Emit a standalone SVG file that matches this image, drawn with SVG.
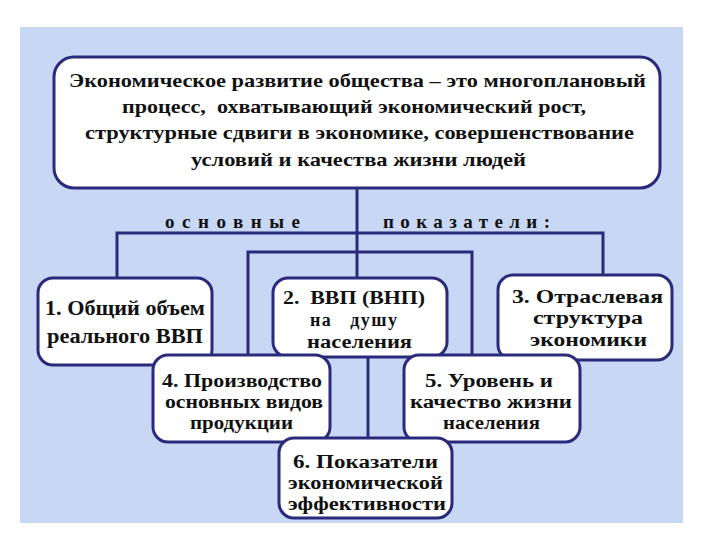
<svg xmlns="http://www.w3.org/2000/svg" width="720" height="540" viewBox="0 0 720 540">
<style>
.box{fill:#ffffff;stroke:#2a2a7c;stroke-width:3}
.con{stroke:#2a2a7c;stroke-width:3;fill:none}
text{font-family:"Liberation Serif","DejaVu Serif","Times New Roman",serif;font-weight:bold;fill:#111111}
.m{font-size:19px}
.n{font-size:22px}
.s{font-size:18px}
.l{font-size:19px}
</style>
<rect x="0" y="0" width="720" height="540" fill="#ffffff"/>
<rect x="20" y="27" width="663" height="496" fill="#c8d7f3"/>
<g id="connectors">
<path class="con" d="M357 188 V278"/>
<path class="con" d="M117 278 V233 H603 V275"/>
<path class="con" d="M248 355 V252 H472 V355"/>
<path class="con" d="M368 357 V438"/>
</g>
<g id="labels">
<text class="l" x="165" y="228" textLength="135" lengthAdjust="spacing">основные</text>
<text class="l" x="383" y="228" textLength="167" lengthAdjust="spacing">показатели:</text>
</g>
<g id="main">
<rect class="box" x="54" y="57" width="606" height="131" rx="20"/>
<text class="m" x="69" y="87" textLength="577" lengthAdjust="spacingAndGlyphs">Экономическое развитие общества – это многоплановый</text>
<text class="m" x="122" y="113" textLength="464" lengthAdjust="spacingAndGlyphs" xml:space="preserve">процесс,  охватывающий экономический рост,</text>
<text class="m" x="85" y="139" textLength="549" lengthAdjust="spacingAndGlyphs">структурные сдвиги в экономике, совершенствование</text>
<text class="m" x="191" y="166" textLength="335" lengthAdjust="spacingAndGlyphs">условий и качества жизни людей</text>
</g>
<g id="node1">
<rect class="box" x="38" y="278" width="174" height="87" rx="15"/>
<text class="n" x="45" y="315" textLength="160" lengthAdjust="spacingAndGlyphs">1. Общий объем</text>
<text class="n" x="47" y="343" textLength="156" lengthAdjust="spacingAndGlyphs">реального ВВП</text>
</g>
<g id="node2">
<rect class="box" x="273" y="278" width="174" height="79" rx="15"/>
<text class="s" x="283" y="304" textLength="142" lengthAdjust="spacingAndGlyphs" xml:space="preserve">2.  ВВП (ВНП)</text>
<text class="s" x="310" y="326" textLength="87" lengthAdjust="spacing" xml:space="preserve">на   душу</text>
<text class="s" x="307" y="348" textLength="105" lengthAdjust="spacingAndGlyphs">населения</text>
</g>
<g id="node3">
<rect class="box" x="498" y="275" width="174" height="85" rx="15"/>
<text class="s" x="512" y="303" textLength="151" lengthAdjust="spacingAndGlyphs">3. Отраслевая</text>
<text class="s" x="533" y="324" textLength="110" lengthAdjust="spacingAndGlyphs">структура</text>
<text class="s" x="530" y="346" textLength="117" lengthAdjust="spacingAndGlyphs">экономики</text>
</g>
<g id="node4">
<rect class="box" x="153" y="355" width="177" height="87" rx="15"/>
<text class="s" x="162" y="387" textLength="160" lengthAdjust="spacingAndGlyphs">4. Производство</text>
<text class="s" x="165" y="408" textLength="158" lengthAdjust="spacingAndGlyphs">основных видов</text>
<text class="s" x="190" y="429" textLength="103" lengthAdjust="spacingAndGlyphs">продукции</text>
</g>
<g id="node5">
<rect class="box" x="404" y="355" width="176" height="87" rx="15"/>
<text class="s" x="425" y="387" textLength="128" lengthAdjust="spacingAndGlyphs">5. Уровень и</text>
<text class="s" x="410" y="408" textLength="162" lengthAdjust="spacingAndGlyphs">качество жизни</text>
<text class="s" x="443" y="429" textLength="97" lengthAdjust="spacingAndGlyphs">населения</text>
</g>
<g id="node6">
<rect class="box" x="279" y="438" width="173" height="80" rx="15"/>
<text class="s" x="293" y="468" textLength="145" lengthAdjust="spacingAndGlyphs">6. Показатели</text>
<text class="s" x="288" y="489" textLength="155" lengthAdjust="spacingAndGlyphs">экономической</text>
<text class="s" x="288" y="510" textLength="158" lengthAdjust="spacingAndGlyphs">эффективности</text>
</g>
</svg>
